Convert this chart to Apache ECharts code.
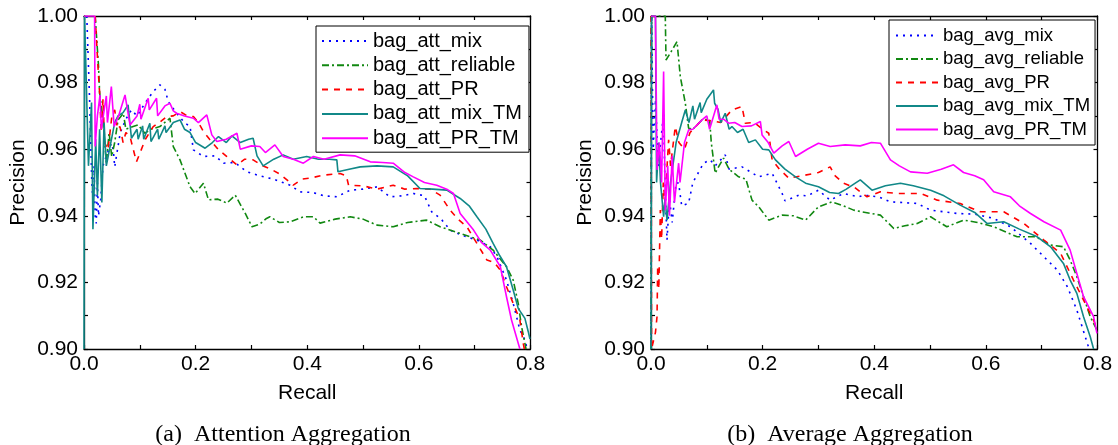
<!DOCTYPE html>
<html>
<head>
<meta charset="utf-8">
<script src="https://cdn.jsdelivr.net/npm/echarts@6/dist/echarts.min.js"></script>
<style>html,body{margin:0;padding:0;background:#fff}#c{width:1118px;height:445px}</style>
</head>
<body>
<div id="c"></div>
<script>
// ---------- data (recall, precision) ----------
const attNames = ['bag_att_mix', 'bag_att_reliable', 'bag_att_PR', 'bag_att_mix_TM', 'bag_att_PR_TM'];
const avgNames = ['bag_avg_mix', 'bag_avg_reliable', 'bag_avg_PR', 'bag_avg_mix_TM', 'bag_avg_PR_TM'];
const captions = ['(a)  Attention Aggregation', '(b)  Average Aggregation'];

const attMix = [[0.005,1.000],[0.008,1.000],[0.010,0.975],[0.014,0.950],[0.016,0.945],[0.018,0.955],[0.020,0.940],[0.022,0.9377],[0.024,0.950],[0.026,0.940],[0.030,0.945],[0.034,0.955],[0.040,0.958],[0.049,0.9618],[0.0525,0.9598],[0.055,0.9547],[0.065,0.965],[0.075,0.969],[0.085,0.9718],[0.095,0.970],[0.110,0.974],[0.124,0.9773],[0.136,0.9793],[0.145,0.978],[0.151,0.9743],[0.165,0.971],[0.180,0.968],[0.190,0.9668],[0.196,0.9598],[0.214,0.9578],[0.235,0.958],[0.250,0.9558],[0.270,0.956],[0.292,0.9532],[0.315,0.9520],[0.340,0.951],[0.369,0.9492],[0.387,0.9472],[0.410,0.947],[0.430,0.946],[0.453,0.9457],[0.477,0.9477],[0.500,0.948],[0.525,0.9487],[0.548,0.9457],[0.570,0.946],[0.590,0.9467],[0.610,0.946],[0.623,0.9412],[0.640,0.939],[0.656,0.9357],[0.680,0.934],[0.704,0.9327],[0.728,0.9307],[0.740,0.9277],[0.757,0.9207],[0.769,0.9137],[0.781,0.9057],[0.790,0.9027],[0.794,0.900]];
const attReliable = [[0.020,1.000],[0.023,1.000],[0.026,0.985],[0.028,0.977],[0.034,0.9688],[0.040,0.9558],[0.045,0.965],[0.0496,0.9578],[0.055,0.962],[0.061,0.9688],[0.0704,0.9708],[0.075,0.966],[0.088,0.9668],[0.097,0.9673],[0.109,0.9648],[0.120,0.966],[0.136,0.9668],[0.154,0.9693],[0.160,0.9608],[0.172,0.9568],[0.190,0.9487],[0.199,0.9467],[0.214,0.9498],[0.223,0.9448],[0.240,0.945],[0.256,0.9438],[0.271,0.9462],[0.289,0.9407],[0.301,0.9367],[0.315,0.9375],[0.327,0.9392],[0.333,0.9397],[0.350,0.938],[0.369,0.9382],[0.393,0.9397],[0.411,0.9397],[0.423,0.9378],[0.450,0.939],[0.477,0.9397],[0.500,0.939],[0.525,0.9372],[0.554,0.9367],[0.580,0.938],[0.614,0.9387],[0.638,0.9367],[0.674,0.9347],[0.710,0.9327],[0.733,0.9297],[0.757,0.9247],[0.769,0.9207],[0.778,0.9137],[0.784,0.9067],[0.792,0.900]];
const attPR = [[0.020,1.000],[0.0225,1.000],[0.025,0.985],[0.028,0.9768],[0.031,0.965],[0.034,0.975],[0.037,0.962],[0.043,0.9598],[0.050,0.970],[0.055,0.9718],[0.060,0.966],[0.0645,0.9668],[0.070,0.962],[0.075,0.965],[0.0824,0.9638],[0.094,0.9562],[0.0974,0.9562],[0.110,0.963],[0.124,0.9668],[0.135,0.968],[0.148,0.9698],[0.160,0.970],[0.172,0.9713],[0.185,0.970],[0.196,0.9698],[0.205,0.968],[0.214,0.9653],[0.225,0.963],[0.240,0.960],[0.256,0.9578],[0.274,0.9553],[0.288,0.957],[0.303,0.9568],[0.320,0.955],[0.335,0.954],[0.351,0.9525],[0.375,0.9492],[0.390,0.951],[0.405,0.9513],[0.429,0.9522],[0.459,0.9527],[0.470,0.952],[0.474,0.9492],[0.500,0.949],[0.525,0.948],[0.554,0.9492],[0.575,0.948],[0.596,0.9482],[0.620,0.948],[0.638,0.9462],[0.656,0.9417],[0.670,0.939],[0.686,0.9367],[0.704,0.9317],[0.722,0.9267],[0.735,0.926],[0.746,0.9237],[0.757,0.9187],[0.769,0.9137],[0.781,0.9087],[0.787,0.9017],[0.789,0.900]];
const attMixTM = [[0,0.900],[0.001,1.000],[0.004,1.000],[0.008,0.955],[0.0135,0.974],[0.016,0.936],[0.021,0.963],[0.024,0.946],[0.028,0.966],[0.032,0.944],[0.036,0.968],[0.040,0.955],[0.055,0.968],[0.061,0.970],[0.070,0.971],[0.079,0.9733],[0.085,0.9633],[0.095,0.966],[0.097,0.963],[0.105,0.967],[0.107,0.963],[0.118,0.9678],[0.120,0.9623],[0.132,0.966],[0.134,0.963],[0.145,0.967],[0.147,0.965],[0.160,0.968],[0.172,0.9688],[0.180,0.966],[0.190,0.965],[0.200,0.962],[0.217,0.9603],[0.230,0.962],[0.241,0.9638],[0.255,0.962],[0.265,0.964],[0.280,0.962],[0.295,0.963],[0.303,0.9633],[0.310,0.958],[0.321,0.9550],[0.340,0.957],[0.357,0.9583],[0.375,0.957],[0.399,0.9578],[0.420,0.957],[0.440,0.957],[0.453,0.9568],[0.455,0.9532],[0.475,0.954],[0.495,0.9547],[0.525,0.955],[0.554,0.9547],[0.580,0.952],[0.602,0.9482],[0.625,0.948],[0.650,0.9477],[0.674,0.9452],[0.690,0.943],[0.704,0.9397],[0.720,0.936],[0.733,0.9317],[0.745,0.928],[0.757,0.9247],[0.769,0.9177],[0.778,0.9122],[0.790,0.9092],[0.796,0.9052],[0.799,0.903]];
const attPRTM = [[0.000,1.000],[0.019,1.000],[0.020,0.9608],[0.024,0.970],[0.0287,0.9763],[0.031,0.966],[0.040,0.976],[0.042,0.968],[0.049,0.9788],[0.0525,0.9793],[0.054,0.9668],[0.062,0.970],[0.0735,0.9763],[0.0824,0.9673],[0.095,0.970],[0.100,0.9735],[0.102,0.969],[0.115,0.9753],[0.117,0.9718],[0.130,0.9753],[0.132,0.970],[0.145,0.973],[0.154,0.9738],[0.160,0.9715],[0.166,0.9708],[0.180,0.970],[0.196,0.9693],[0.205,0.968],[0.220,0.9703],[0.229,0.9643],[0.238,0.9623],[0.255,0.963],[0.274,0.9648],[0.280,0.960],[0.300,0.961],[0.315,0.9608],[0.325,0.959],[0.342,0.9613],[0.357,0.9578],[0.375,0.957],[0.393,0.9558],[0.411,0.9578],[0.430,0.957],[0.459,0.9583],[0.485,0.958],[0.513,0.9562],[0.535,0.956],[0.554,0.9558],[0.575,0.953],[0.590,0.9517],[0.610,0.950],[0.632,0.9492],[0.650,0.948],[0.662,0.9467],[0.674,0.9407],[0.698,0.9357],[0.712,0.932],[0.728,0.9297],[0.746,0.9247],[0.757,0.9157],[0.766,0.9087],[0.778,0.9017],[0.781,0.900]];

const avgMix = [[0.000,0.900],[0.001,1.000],[0.004,0.960],[0.008,0.975],[0.013,0.955],[0.0226,0.9708],[0.025,0.950],[0.0287,0.9327],[0.033,0.945],[0.038,0.938],[0.045,0.950],[0.0495,0.9498],[0.055,0.943],[0.0674,0.9438],[0.075,0.950],[0.085,0.953],[0.094,0.9558],[0.106,0.9568],[0.115,0.955],[0.133,0.9583],[0.140,0.954],[0.163,0.9547],[0.180,0.953],[0.193,0.9517],[0.217,0.9528],[0.235,0.9467],[0.240,0.9445],[0.265,0.9462],[0.280,0.946],[0.300,0.9477],[0.321,0.9447],[0.345,0.9467],[0.372,0.9457],[0.381,0.9462],[0.408,0.9457],[0.429,0.9442],[0.477,0.9437],[0.501,0.9417],[0.548,0.9407],[0.580,0.9405],[0.614,0.9392],[0.644,0.9367],[0.680,0.9317],[0.704,0.9277],[0.728,0.9237],[0.746,0.9187],[0.763,0.9117],[0.778,0.9037],[0.785,0.900]];
const avgReliable = [[0.000,0.900],[0.001,1.000],[0.0256,1.000],[0.0269,0.9868],[0.035,0.989],[0.0466,0.9923],[0.0525,0.9818],[0.0615,0.9738],[0.0674,0.9663],[0.075,0.966],[0.0914,0.9688],[0.105,0.969],[0.108,0.962],[0.115,0.9528],[0.122,0.955],[0.130,0.9573],[0.140,0.954],[0.157,0.9517],[0.170,0.951],[0.181,0.9447],[0.193,0.9427],[0.211,0.9387],[0.235,0.9402],[0.255,0.940],[0.277,0.9387],[0.300,0.9427],[0.324,0.9442],[0.345,0.943],[0.363,0.9417],[0.378,0.9412],[0.411,0.9402],[0.435,0.9362],[0.455,0.937],[0.477,0.9377],[0.501,0.9397],[0.530,0.9367],[0.560,0.9387],[0.585,0.938],[0.614,0.9367],[0.656,0.9337],[0.690,0.9337],[0.716,0.9312],[0.739,0.9307],[0.751,0.9267],[0.763,0.9217],[0.775,0.9157],[0.787,0.9097],[0.799,0.9057]];
const avgPR = [[0.000,1.000],[0.001,0.900],[0.008,0.905],[0.0108,0.9097],[0.012,0.925],[0.014,0.918],[0.0167,0.9417],[0.019,0.933],[0.022,0.950],[0.025,0.944],[0.0316,0.9628],[0.035,0.955],[0.0435,0.9668],[0.050,0.962],[0.060,0.960],[0.070,0.965],[0.0914,0.9688],[0.110,0.9685],[0.125,0.968],[0.145,0.9718],[0.163,0.9728],[0.169,0.9678],[0.185,0.968],[0.200,0.966],[0.211,0.9648],[0.217,0.9568],[0.230,0.954],[0.247,0.9513],[0.270,0.952],[0.300,0.953],[0.321,0.9547],[0.330,0.952],[0.345,0.9498],[0.365,0.9485],[0.387,0.9457],[0.411,0.9472],[0.441,0.9467],[0.483,0.9467],[0.513,0.9447],[0.554,0.9437],[0.590,0.9412],[0.632,0.9412],[0.668,0.9377],[0.704,0.9327],[0.734,0.9287],[0.757,0.9207],[0.775,0.9147],[0.793,0.9087],[0.799,0.9057]];
const avgMixTM = [[0.000,0.900],[0.001,1.000],[0.008,1.000],[0.010,0.950],[0.014,0.962],[0.017,0.950],[0.0226,0.9397],[0.025,0.945],[0.0287,0.9387],[0.035,0.950],[0.045,0.962],[0.055,0.968],[0.0615,0.9718],[0.068,0.968],[0.075,0.973],[0.078,0.969],[0.088,0.974],[0.090,0.971],[0.100,0.975],[0.112,0.9778],[0.114,0.9738],[0.120,0.972],[0.125,0.968],[0.133,0.9708],[0.140,0.966],[0.145,0.9668],[0.155,0.965],[0.165,0.966],[0.175,0.962],[0.187,0.9628],[0.200,0.960],[0.211,0.9598],[0.223,0.9568],[0.240,0.954],[0.259,0.9517],[0.277,0.9498],[0.300,0.9487],[0.320,0.947],[0.336,0.9467],[0.350,0.948],[0.366,0.9498],[0.375,0.9508],[0.396,0.9477],[0.420,0.949],[0.447,0.9498],[0.470,0.949],[0.501,0.9477],[0.525,0.946],[0.554,0.9432],[0.580,0.941],[0.602,0.9377],[0.632,0.9382],[0.660,0.936],[0.692,0.9337],[0.716,0.9307],[0.739,0.9257],[0.751,0.9207],[0.763,0.9167],[0.775,0.9097],[0.787,0.9037],[0.793,0.900]];
const avgPRTM = [[0.000,1.000],[0.008,1.000],[0.0108,0.9538],[0.015,0.962],[0.019,0.950],[0.0226,0.9833],[0.0256,0.9417],[0.030,0.955],[0.033,0.940],[0.038,0.958],[0.042,0.944],[0.0495,0.9558],[0.052,0.950],[0.060,0.962],[0.0674,0.9658],[0.075,0.966],[0.0914,0.9688],[0.100,0.970],[0.105,0.966],[0.118,0.9733],[0.122,0.969],[0.130,0.969],[0.139,0.9678],[0.150,0.968],[0.163,0.9668],[0.180,0.967],[0.196,0.9683],[0.199,0.9643],[0.210,0.962],[0.220,0.9588],[0.235,0.961],[0.247,0.9623],[0.259,0.9578],[0.280,0.960],[0.300,0.9618],[0.321,0.9608],[0.348,0.9613],[0.375,0.961],[0.395,0.962],[0.411,0.9618],[0.429,0.9568],[0.445,0.955],[0.465,0.9532],[0.495,0.9528],[0.520,0.954],[0.542,0.9553],[0.560,0.953],[0.580,0.952],[0.596,0.9508],[0.614,0.9472],[0.644,0.9457],[0.660,0.943],[0.680,0.9407],[0.704,0.9382],[0.734,0.9357],[0.751,0.9297],[0.763,0.9227],[0.775,0.9157],[0.793,0.9097],[0.799,0.9047]];

const xTicks = { min: 0, max: 0.8, step: 0.1 };
const yTicks = { min: 0.90, max: 1.00, step: 0.01 };

// ---------- styles ----------
const FONT = 'Liberation Sans, Arial, sans-serif';
const SERIF = 'Liberation Serif, Times New Roman, serif';
const styles = [
  { color: '#0000ff', type: [2, 5] },
  { color: '#118811', type: [7, 3, 2, 3] },
  { color: '#ff0000', type: [6, 6] },
  { color: '#118888', type: 'solid' },
  { color: '#ff00ff', type: 'solid' }
];

function xAxis(grid, pos) {
  return {
    type: 'value', gridIndex: grid, position: pos, min: xTicks.min, max: xTicks.max, interval: xTicks.step,
    name: pos === 'bottom' ? 'Recall' : '', nameLocation: 'middle', nameGap: 34,
    nameTextStyle: { fontFamily: FONT, fontSize: 21, color: '#000' },
    axisLine: { show: true, onZero: false, lineStyle: { color: '#000', width: 1.3 } },
    axisTick: { show: true, inside: true, length: 4, lineStyle: { color: '#000', width: 1.2 } },
    axisLabel: {
      show: pos === 'bottom', margin: 5, fontFamily: FONT, fontSize: 21, color: '#000',
      showMinLabel: true, showMaxLabel: true,
      formatter: v => (Math.round(v * 10) % 2 === 0 ? v.toFixed(1) : '')
    },
    splitLine: { show: false }
  };
}
function yAxis(grid, pos) {
  return {
    type: 'value', gridIndex: grid, position: pos, min: yTicks.min, max: yTicks.max, interval: yTicks.step,
    name: pos === 'left' ? 'Precision' : '', nameLocation: 'middle', nameGap: 55,
    nameTextStyle: { fontFamily: FONT, fontSize: 21, color: '#000' },
    axisLine: { show: true, onZero: false, lineStyle: { color: '#000', width: 1.3 } },
    axisTick: { show: true, inside: true, length: 4, lineStyle: { color: '#000', width: 1.2 } },
    axisLabel: {
      show: pos === 'left', margin: 6, fontFamily: FONT, fontSize: 21, color: '#000',
      formatter: v => (Math.round(v * 100) % 2 === 0 ? v.toFixed(2) : '')
    },
    splitLine: { show: false }
  };
}
function mk(name, data, i, axisIdx) {
  return {
    name, type: 'line', data, xAxisIndex: axisIdx, yAxisIndex: axisIdx,
    symbol: 'none', showSymbol: false, clip: true,
    lineStyle: { color: styles[i].color, type: styles[i].type, width: 1.6 },
    itemStyle: { color: styles[i].color }
  };
}
const attData = [attMix, attReliable, attPR, attMixTM, attPRTM];
const avgData = [avgMix, avgReliable, avgPR, avgMixTM, avgPRTM];
const series = [];
attData.forEach((d, i) => series.push(mk(attNames[i], d, i, 0)));
avgData.forEach((d, i) => series.push(mk(avgNames[i], d, i, 2)));

function legend(names, left, top, w, gap, fs, pad) {
  return {
    data: names, orient: 'vertical', left, top, itemWidth: w, itemHeight: 14, itemGap: gap,
    padding: pad, borderColor: '#000', borderWidth: 1, backgroundColor: '#fff',
    itemStyle: { color: 'rgba(0,0,0,0)', borderColor: 'rgba(0,0,0,0)', borderWidth: 0 },
    textStyle: { fontFamily: FONT, fontSize: fs, color: '#000' }, selectedMode: false
  };
}

const chart = echarts.init(document.getElementById('c'), null, { renderer: 'canvas' });
chart.setOption({
  animation: false,
  backgroundColor: '#fff',
  grid: [
    { left: 84, top: 16, width: 446.5, height: 333 },
    { left: 651, top: 16, width: 446.5, height: 333 }
  ],
  xAxis: [xAxis(0, 'bottom'), xAxis(0, 'top'), xAxis(1, 'bottom'), xAxis(1, 'top')],
  yAxis: [yAxis(0, 'left'), yAxis(0, 'right'), yAxis(1, 'left'), yAxis(1, 'right')],
  legend: [
    legend(attNames, 316, 26, 46, 4.3, 20, [5, 7, 4, 5]),
    legend(avgNames, 889, 20, 42, 4.5, 18.5, [6, 5, 6, 6])
  ],
  title: [
    { text: captions[0], left: 278, top: 418, textAlign: 'center', textStyle: { fontFamily: SERIF, fontSize: 24, fontWeight: 'normal', color: '#000' } },
    { text: captions[1], left: 845, top: 418, textAlign: 'center', textStyle: { fontFamily: SERIF, fontSize: 24, fontWeight: 'normal', color: '#000' } }
  ],
  series
});
</script>
</body>
</html>
